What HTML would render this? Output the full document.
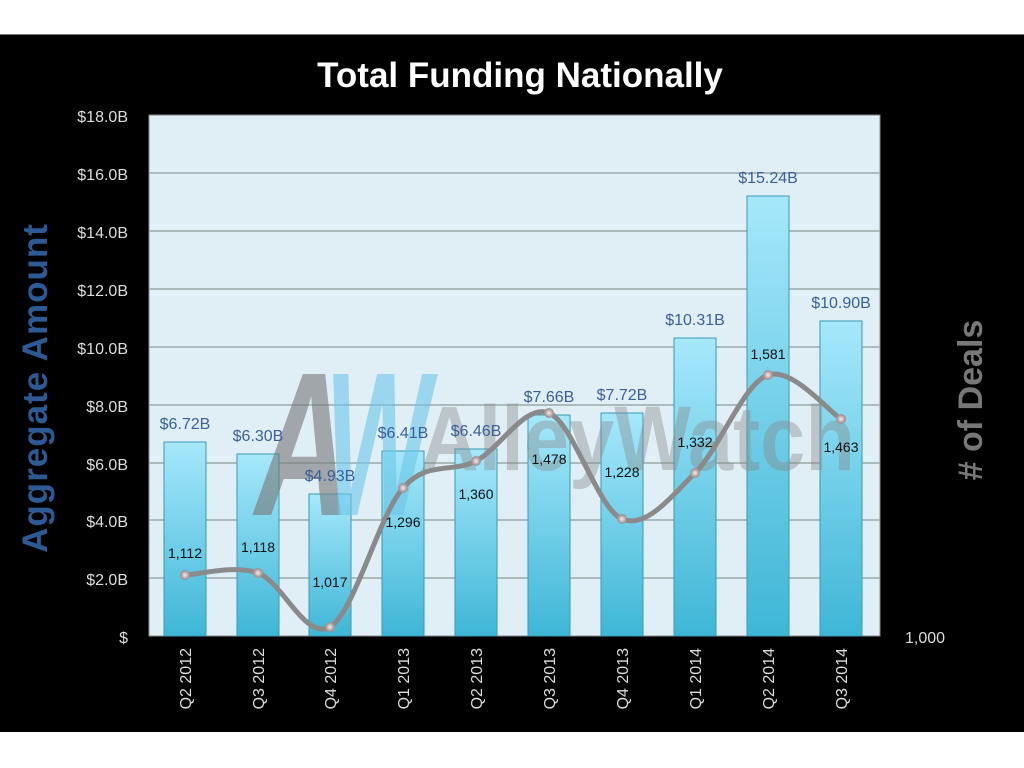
<!DOCTYPE html>
<html><head><meta charset="utf-8"><style>
html,body{margin:0;padding:0;background:#fff;}
svg{display:block;}
text{font-family:"Liberation Sans",sans-serif;}
</style></head><body>
<svg width="1024" height="768" viewBox="0 0 1024 768" xmlns="http://www.w3.org/2000/svg">
<defs>
<linearGradient id="bar" x1="0" y1="0" x2="0" y2="1">
<stop offset="0" stop-color="#a6e8fb"/><stop offset="1" stop-color="#3fb6d6"/>
</linearGradient>
<radialGradient id="pt"><stop offset="0" stop-color="#eee"/><stop offset="1" stop-color="#a88"/></radialGradient>
</defs>
<rect x="0" y="35" width="1024" height="697" fill="#000"/>
<rect x="0" y="34" width="1024" height="1" fill="#777"/>
<text x="520" y="87" fill="#fff" font-size="35" font-weight="bold" text-anchor="middle">Total Funding Nationally</text>
<rect x="149" y="115" width="731" height="521" fill="#e0eff5" stroke="#888" stroke-width="1"/>
<g stroke="#9aa" stroke-width="1.5">
<line x1="149" x2="880" y1="173" y2="173"/><line x1="149" x2="880" y1="231" y2="231"/>
<line x1="149" x2="880" y1="289" y2="289"/><line x1="149" x2="880" y1="347" y2="347"/>
<line x1="149" x2="880" y1="405" y2="405"/><line x1="149" x2="880" y1="463" y2="463"/>
<line x1="149" x2="880" y1="520" y2="520"/><line x1="149" x2="880" y1="578" y2="578"/>
</g>
<g fill="#ddd" font-size="16" text-anchor="end">
<text x="128" y="122">$18.0B</text><text x="128" y="180">$16.0B</text><text x="128" y="238">$14.0B</text>
<text x="128" y="296">$12.0B</text><text x="128" y="354">$10.0B</text><text x="128" y="412">$8.0B</text>
<text x="128" y="470">$6.0B</text><text x="128" y="527">$4.0B</text><text x="128" y="585">$2.0B</text>
<text x="128" y="643">$</text>
</g>
<text x="925" y="643" fill="#ddd" font-size="16" text-anchor="middle">1,000</text>
<g fill="url(#bar)" stroke="#3a9ab5" stroke-width="1">
<rect x="164" y="442" width="42" height="194"/>
<rect x="237" y="454" width="42" height="182"/>
<rect x="309" y="494" width="42" height="142"/>
<rect x="382" y="451" width="42" height="185"/>
<rect x="455" y="449" width="42" height="187"/>
<rect x="528" y="415" width="42" height="221"/>
<rect x="601" y="413" width="42" height="223"/>
<rect x="674" y="338" width="42" height="298"/>
<rect x="747" y="196" width="42" height="440"/>
<rect x="820" y="321" width="42" height="315"/>
</g>
<text x="255" y="515" font-size="205" font-weight="bold" font-style="italic" fill="#777" opacity="0.6" textLength="95" lengthAdjust="spacingAndGlyphs">A</text>
<text x="325" y="515" font-size="205" font-weight="bold" font-style="italic" fill="#6cc6e8" opacity="0.6" textLength="105" lengthAdjust="spacingAndGlyphs">W</text>
<text x="420" y="470" font-size="92" font-weight="bold" fill="#888" opacity="0.4" textLength="435" lengthAdjust="spacingAndGlyphs">AlleyWatch</text>
<g fill="#3a5f9a" font-size="16" text-anchor="middle">
<text x="185" y="429">$6.72B</text><text x="258" y="441">$6.30B</text><text x="330" y="481">$4.93B</text>
<text x="403" y="438">$6.41B</text><text x="476" y="436">$6.46B</text><text x="549" y="402">$7.66B</text>
<text x="622" y="400">$7.72B</text><text x="695" y="325">$10.31B</text><text x="768" y="183">$15.24B</text>
<text x="841" y="308">$10.90B</text>
</g>
<path d="M185,575 C197,575 233.8,564.3 258,573 C282.2,581.7 305.8,641.2 330,627 C354.2,612.8 378.7,515.7 403,488 C427.3,460.3 451.7,473.5 476,461 C500.3,448.5 524.7,403.3 549,413 C573.3,422.7 597.7,509 622,519 C646.3,529 670.7,497 695,473 C719.3,449 743.7,383.3 768,375 C792.3,366.7 828.8,411.7 841,419" fill="none" stroke="#8a8a8a" stroke-width="5" stroke-linecap="round"/>
<g fill="url(#pt)" stroke="#999" stroke-width="1">
<circle cx="185" cy="575" r="4.5"/><circle cx="258" cy="573" r="4.5"/><circle cx="330" cy="627" r="4.5"/>
<circle cx="403" cy="488" r="4.5"/><circle cx="476" cy="461" r="4.5"/><circle cx="549" cy="413" r="4.5"/>
<circle cx="622" cy="519" r="4.5"/><circle cx="695" cy="473" r="4.5"/><circle cx="768" cy="375" r="4.5"/>
<circle cx="841" cy="419" r="4.5"/>
</g>
<g fill="#111" font-size="14" text-anchor="middle">
<text x="185" y="558">1,112</text><text x="258" y="552">1,118</text><text x="330" y="587">1,017</text>
<text x="403" y="527">1,296</text><text x="476" y="499">1,360</text><text x="549" y="464">1,478</text>
<text x="622" y="477">1,228</text><text x="695" y="447">1,332</text><text x="768" y="359">1,581</text>
<text x="841" y="452">1,463</text>
</g>
<g fill="#ddd" font-size="16" text-anchor="end">
<text transform="translate(191,648) rotate(-90)">Q2 2012</text>
<text transform="translate(264,648) rotate(-90)">Q3 2012</text>
<text transform="translate(336,648) rotate(-90)">Q4 2012</text>
<text transform="translate(409,648) rotate(-90)">Q1 2013</text>
<text transform="translate(482,648) rotate(-90)">Q2 2013</text>
<text transform="translate(555,648) rotate(-90)">Q3 2013</text>
<text transform="translate(628,648) rotate(-90)">Q4 2013</text>
<text transform="translate(701,648) rotate(-90)">Q1 2014</text>
<text transform="translate(774,648) rotate(-90)">Q2 2014</text>
<text transform="translate(847,648) rotate(-90)">Q3 2014</text>
</g>
<text transform="translate(47,388) rotate(-90)" fill="#2d5a94" font-size="35" font-weight="bold" text-anchor="middle" letter-spacing="1">Aggregate  Amount</text>
<text transform="translate(982,400) rotate(-90)" fill="#777" font-size="34" font-weight="bold" text-anchor="middle"># of Deals</text>
</svg>
</body></html>
